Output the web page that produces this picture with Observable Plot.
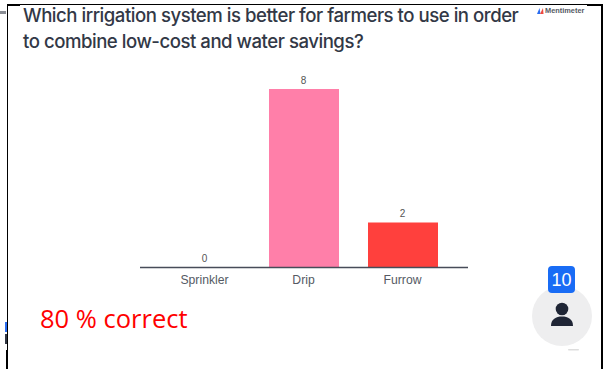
<!DOCTYPE html>
<html>
<head>
<meta charset="utf-8">
<script src="https://cdn.jsdelivr.net/npm/d3@7"></script>
<script src="https://cdn.jsdelivr.net/npm/@observablehq/plot@0.6"></script>
<style>
  html, body { margin: 0; padding: 0; background: #fff; overflow: hidden; }
  #slide { position: relative; width: 605px; height: 369px; overflow: hidden; }
  #slide > * { position: absolute; }
  #chart { left: 0; top: 0; }
  #title { left: 23px; top: 3px; margin: 0; font: 500 18.6px/25.500px Inter, sans-serif; letter-spacing: -0.48px; color: #323846; white-space: nowrap; }
  #brand { left: 545px; top: 6px; font: 700 7.4px/10px "Liberation Sans", sans-serif; color: #555a64; white-space: nowrap; }
  #note { left: 40px; top: 300px; font: 400 25.500px/36px "Open Sans", sans-serif; color: #ff0000; white-space: nowrap; }
  #count { left: 548px; top: 266px; width: 27px; height: 27px; border-radius: 4px; background: #196cf5; color: #fff; font: 400 18px/28px "Liberation Sans", sans-serif; text-align: center; }
  .rule { background: #000; }
</style>
</head>
<body>
<div id="slide">
  <div id="chart"></div>
  <p id="title">Which irrigation system is better for farmers to use in order<br>to combine low-cost and water savings?</p>
  <svg id="brandIcon" style="left:537px;top:8px" width="7" height="6" viewBox="0 0 7 6">
    <path d="M0 6 L2.500 0 L3.500 6Z" fill="#2a6cf0"/><path d="M3 6 L6 0 L6.500 6Z" fill="#f0483e"/>
  </svg>
  <div id="brand">Mentimeter</div>
  <div id="note">80 % correct</div>
  <svg id="avatar" style="left:530px;top:284px" width="64" height="72" viewBox="0 0 64 72">
    <circle cx="32" cy="32" r="30" fill="#eeeeef"/>
    <circle cx="32" cy="25" r="6.300" fill="#1f2535"/>
    <path d="M21 42 C21 35 26 32.500 32 32.500 C38 32.500 43 35 43 42 Z" fill="#1f2535"/>
    <rect x="38" y="65" width="11" height="1.500" rx="0.700" fill="#dddddd"/>
  </svg>
  <div id="count">10</div>
  <!-- window frame and the clipped sliver at its left edge -->
  <div class="rule" style="left:7px;top:4px;width:596px;height:1px"></div>
  <div class="rule" style="left:7px;top:5px;width:13px;height:1px"></div>
  <div class="rule" style="left:587px;top:5px;width:15px;height:1px"></div>
  <div class="rule" style="left:7px;top:4px;width:1px;height:365px"></div>
  <div class="rule" style="left:6px;top:350px;width:2px;height:19px"></div>
  <div class="rule" style="left:601px;top:4px;width:2px;height:365px"></div>
  <div style="left:5px;top:322px;width:2px;height:10px;background:#2a6cf0"></div>
  <div style="left:5px;top:334px;width:2px;height:10px;background:#333844"></div>
  <div style="left:0;top:11px;width:6px;height:3px;background:#8a8d94"></div>
</div>
<script>
const options = ["Sprinkler", "Drip", "Furrow"];
const votes = [0, 8, 2];
const barColors = ["#ff7fa9", "#ff7fa9", "#ff403d"];
const rows = options.map((option, i) => ({option, count: votes[i], color: barColors[i]}));

const chart = Plot.plot({
  width: 605,
  height: 369,
  marginLeft: 140,
  marginRight: 137,
  marginTop: 89,
  marginBottom: 102,
  style: {background: "transparent", fontFamily: "'Liberation Sans', sans-serif"},
  x: {domain: options, paddingInner: 0.293, paddingOuter: 0.303, label: null},
  y: {domain: [0, 8], axis: null},
  marks: [
    Plot.barY(rows, {x: "option", y: "count", fill: "color"}),
    Plot.ruleY([0], {stroke: "#474c59", strokeWidth: 1.300}),
    Plot.text(rows, {x: "option", y: "count", text: d => String(d.count), dy: -9, dx: -1, fontSize: 10, fill: "#555"}),
    Plot.axisX({tickSize: 0, tickPadding: 8, dx: -1, fontSize: 12.200, color: "#555a64", label: null})
  ]
});
document.getElementById("chart").append(chart);
</script>
</body>
</html>
